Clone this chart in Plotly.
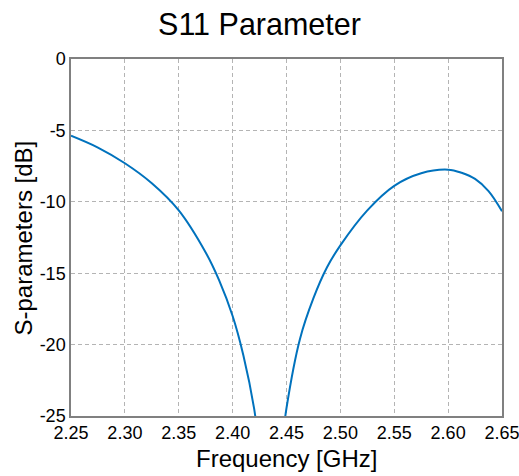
import plotly.graph_objects as go

freq_ghz = [2.25, 2.275, 2.30, 2.325, 2.35, 2.375, 2.3875, 2.40, 2.41, 2.42,
            2.4275, 2.435, 2.4425, 2.45, 2.4625, 2.475, 2.4875, 2.50, 2.525, 2.55,
            2.575, 2.60, 2.6125, 2.625, 2.6375, 2.65]
s11_db = [-5.37, -6.2, -7.30, -8.7, -10.6, -13.55, -15.5, -18.0, -20.76, -24.5,
          -29.0, -32.0, -29.0, -24.44, -19.6, -16.75, -14.6, -13.05, -10.6, -8.88,
          -8.0, -7.75, -7.97, -8.4, -9.25, -10.66]

x_ticks = [2.25, 2.30, 2.35, 2.40, 2.45, 2.50, 2.55, 2.60, 2.65]
x_tick_text = ["2.25", "2.30", "2.35", "2.40", "2.45", "2.50", "2.55", "2.60", "2.65"]
y_ticks = [0, -5, -10, -15, -20, -25]
y_tick_text = ["0", "-5", "-10", "-15", "-20", "-25"]

fig = go.Figure()
fig.add_trace(go.Scatter(
    x=freq_ghz, y=s11_db, mode="lines",
    line=dict(color="#0072BD", width=2, shape="spline", smoothing=1.0),
    showlegend=False, hoverinfo="skip",
))

font_family = "Liberation Sans, Arial, sans-serif"
L, R, T, B = 71, 17, 59, 60
W, H = 519, 476
pw, ph = W - L - R, H - T - B

fig.update_layout(
    width=W, height=H,
    margin=dict(l=L, r=R, t=T, b=B),
    paper_bgcolor="white", plot_bgcolor="white",
    font=dict(family=font_family, color="black"),
    title=dict(text="S11 Parameter", x=0.5, xanchor="center",
               y=1 - 24 / H, yanchor="middle", yref="container",
               font=dict(size=30.5, family=font_family, color="black")),
    annotations=[
        dict(text="Frequency [GHz]", xref="paper", yref="paper",
             x=0.5, y=(T + ph - 458) / ph, xanchor="center", yanchor="middle",
             showarrow=False, font=dict(size=24, family=font_family, color="black")),
        dict(text="S-parameters [dB]", xref="paper", yref="paper",
             x=(22.5 - L) / pw, y=(T + ph - 238) / ph, xanchor="center", yanchor="middle",
             textangle=-90, showarrow=False,
             font=dict(size=24, family=font_family, color="black")),
    ],
)
axis_common = dict(
    tickfont=dict(size=18), ticks="", showline=True, linecolor="#808080",
    linewidth=1.5, mirror=True, showgrid=True, gridcolor="#B4B4B4",
    griddash="4px,3px", gridwidth=1, zeroline=False, automargin=False,
    ticklabeloverflow="allow",
)
fig.update_xaxes(range=[2.2499999, 2.6500001], tickvals=x_ticks, ticktext=x_tick_text,
                 **axis_common)
fig.update_yaxes(range=[-25.00001, 0.00001], tickvals=y_ticks, ticktext=y_tick_text,
                 **axis_common)

fig.write_html("out.html")
